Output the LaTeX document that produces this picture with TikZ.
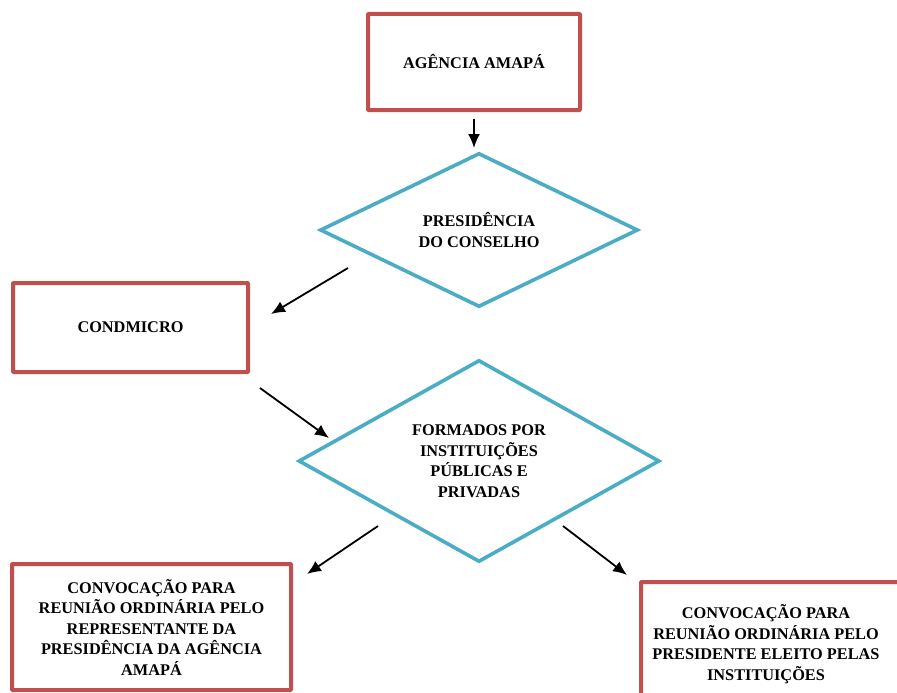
\documentclass[tikz,border=0pt]{standalone}
\usepackage{fontspec}
\setmainfont{Liberation Serif}
\usetikzlibrary{arrows.meta,shapes.geometric}
\definecolor{boxred}{HTML}{C0504D}
\definecolor{decblue}{HTML}{4BACC6}

\begin{document}
\begin{tikzpicture}[x=1pt,y=-1pt,
    every node/.style={font=\fontsize{16.3}{20.5}\selectfont\bfseries,align=center},
    redbox/.style={draw=boxred,line width=4pt,rectangle,rounded corners=0.6pt,inner sep=0pt},
    decision/.style={draw=decblue,line width=3.6pt,diamond,inner sep=0pt,aspect=2},
    flow/.style={-{Latex[length=14pt,width=12pt]},line width=1.8pt}]
    \useasboundingbox (0,0) rectangle (897,693);

    \node [redbox,minimum width=212,minimum height=96] (agencia) at (474,62) {AGÊNCIA AMAPÁ};
    \node [decision,minimum width=318,minimum height=154] (presid) at (479,230)
    {PRESIDÊNCIA\\DO CONSELHO};
    \node [redbox,minimum width=235,minimum height=89] (condmicro) at (130.5,327.5) {CONDMICRO};
    \node [decision,minimum width=361,minimum height=202] (formados) at (479,461)
    {FORMADOS POR\\INSTITUIÇÕES\\PÚBLICAS E\\PRIVADAS};
    \node [redbox,minimum width=279,minimum height=126] (representante) at (151.5,627)
    {CONVOCAÇÃO PARA\\REUNIÃO ORDINÁRIA PELO\\REPRESENTANTE DA\\PRESIDÊNCIA DA AGÊNCIA\\AMAPÁ};
    \node [redbox,minimum width=300,minimum height=140,anchor=north west] (eleito) at (639,580) {};
    \node (eleitotxt) at (766,644)
    {CONVOCAÇÃO PARA\\REUNIÃO ORDINÁRIA PELO\\PRESIDENTE ELEITO PELAS\\INSTITUIÇÕES};

    % free ends of the short arrows
    \coordinate (a1) at (474,119); \coordinate (b1) at (474,148);
    \coordinate (a2) at (348,268); \coordinate (b2) at (271,314);
    \coordinate (a3) at (260,388); \coordinate (b3) at (329,438);
    \coordinate (a4) at (378,526); \coordinate (b4) at (307,574);
    \coordinate (a5) at (563,526); \coordinate (b5) at (627,575);

    \path [flow] (a1) edge (b1) (a2) edge (b2) (a3) edge (b3)
    (a4) edge (b4) (a5) edge (b5);
\end{tikzpicture}
\end{document}
